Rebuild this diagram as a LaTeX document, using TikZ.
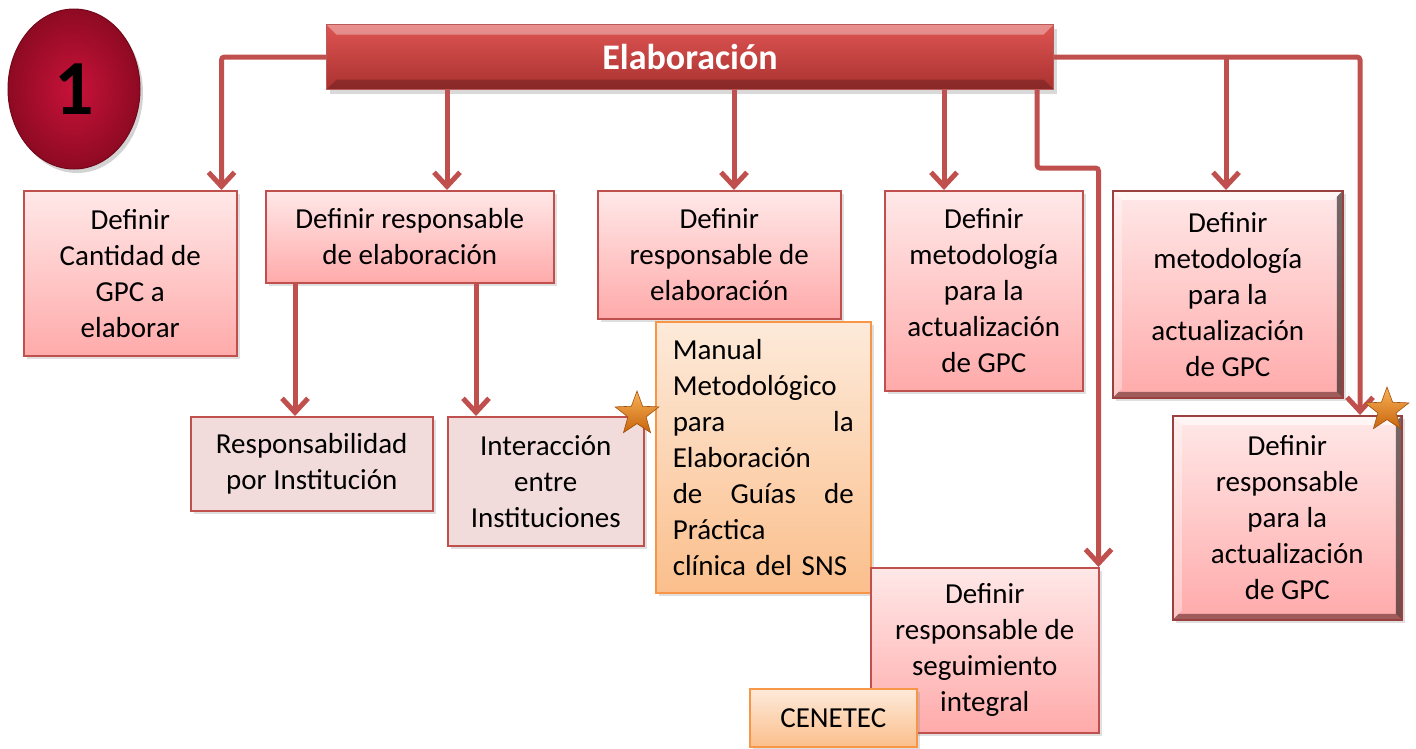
\documentclass[tikz,border=0pt]{standalone}
\usepackage{fontspec}
\setmainfont{Carlito}
\usetikzlibrary{arrows.meta,shapes.geometric,shadows,calc}
\definecolor{ln}{HTML}{C0504D}
\definecolor{pinkT}{HTML}{FFE8E8}
\definecolor{pinkB}{HTML}{FFAAAA}
\definecolor{lpink}{HTML}{F2DCDB}
\definecolor{orT}{HTML}{FDEADA}
\definecolor{orB}{HTML}{FBBF8C}
\definecolor{orL}{HTML}{F79646}
\definecolor{hdrT}{HTML}{DE5452}
\definecolor{hdrB}{HTML}{A93230}
\definecolor{ballC}{HTML}{C8123A}
\definecolor{ballE}{HTML}{8E0A22}
\definecolor{starT}{HTML}{F9B255}
\definecolor{starB}{HTML}{C8650F}
\begin{document}
\begin{tikzpicture}[x=1pt,y=-1pt,
  txt/.style={font=\fontsize{29}{36}\selectfont, align=center, text=black, inner sep=0pt, anchor=north west},
  shad/.style={drop shadow={opacity=0.25, shadow xshift=3pt, shadow yshift=-3pt}},
  pbox/.style={txt, shad, draw=ln, line width=1.5pt, top color=pinkT, bottom color=pinkB},
  lbox/.style={txt, shad, draw=ln, line width=1.5pt, fill=lpink},
  obox/.style={txt, shad, draw=orL, line width=1.5pt, top color=orT, bottom color=orB},
  bevel/.style={pbox, draw=ln!80!black,
    path picture={
      \fill[white,opacity=0.6] (path picture bounding box.north west) -- (path picture bounding box.north east)
        -- ([xshift=-9pt,yshift=-9pt]path picture bounding box.north east) -- ([xshift=9pt,yshift=-9pt]path picture bounding box.north west) -- cycle;
      \fill[white,opacity=0.35] (path picture bounding box.north west) -- ([xshift=9pt,yshift=-9pt]path picture bounding box.north west)
        -- ([xshift=9pt,yshift=9pt]path picture bounding box.south west) -- (path picture bounding box.south west) -- cycle;
      \fill[black,opacity=0.55] (path picture bounding box.north east) -- (path picture bounding box.south east)
        -- ([xshift=-6pt,yshift=6pt]path picture bounding box.south east) -- ([xshift=-6pt,yshift=-6pt]path picture bounding box.north east) -- cycle;
      \fill[ln!50!black,opacity=0.6] (path picture bounding box.south west) -- (path picture bounding box.south east)
        -- ([xshift=-6pt,yshift=6pt]path picture bounding box.south east) -- ([xshift=6pt,yshift=6pt]path picture bounding box.south west) -- cycle;
    }},
  arr/.style={draw=ln, line width=5pt, rounded corners=3pt, -{Straight Barb[length=14pt,width=26pt]}},
  starn/.style={star, star points=5, star point ratio=2.4, minimum size=46pt, inner sep=0pt,
    top color=starT, bottom color=starB, draw=starB!80!black, line width=0.6pt}
]
\useasboundingbox (0,0) rectangle (1416,748);

% header
\node[anchor=north west, minimum width=727pt, minimum height=65pt, inner sep=0pt,
  top color=hdrT, bottom color=hdrB, draw=hdrB!80!white, line width=1pt,
  drop shadow={opacity=0.3, shadow xshift=3pt, shadow yshift=-4pt},
  path picture={
    \fill[white,opacity=0.35] (path picture bounding box.north west) -- (path picture bounding box.north east)
      -- ([xshift=-10pt,yshift=-10pt]path picture bounding box.north east) -- ([xshift=10pt,yshift=-10pt]path picture bounding box.north west) -- cycle;
    \fill[black,opacity=0.2] (path picture bounding box.south west) -- (path picture bounding box.south east)
      -- ([xshift=-10pt,yshift=10pt]path picture bounding box.south east) -- ([xshift=10pt,yshift=10pt]path picture bounding box.south west) -- cycle;
  }] (hdr) at (326,24) {};
\node[font=\fontsize{36}{40}\selectfont\bfseries, text=white] (hdrt) at (hdr.center) {Elaboración};

% number ball
\node[ellipse, minimum width=132pt, minimum height=160pt, inner sep=0pt,
  inner color=ballC, outer color=ballE, draw=ballE!80!black, line width=1pt,
  drop shadow={opacity=0.35, shadow xshift=3pt, shadow yshift=-4pt},
  font=\fontsize{78}{80}\selectfont\bfseries] (ball) at (74,89) {1};

% boxes
\node[pbox, minimum width=213pt, minimum height=165pt] (b1) at (23,190) {Definir\\Cantidad de\\GPC a\\elaborar};
\node[pbox, minimum width=288pt, minimum height=92pt] (b2) at (265,190) {Definir responsable\\de elaboración};
\node[pbox, minimum width=243pt, minimum height=128pt] (b3) at (597,190) {Definir\\responsable de\\elaboración};
\node[pbox, minimum width=198pt, minimum height=200pt] (b4) at (884,190) {Definir\\metodología\\para la\\actualización\\de GPC};
\node[bevel, minimum width=230pt, minimum height=207pt] (b5) at (1112,190) {Definir\\metodología\\para la\\actualización\\de GPC};
\node[lbox, minimum width=242pt, minimum height=94pt] (b6) at (190,416) {Responsabilidad\\por Institución};
\node[lbox, minimum width=196pt, minimum height=129pt] (b7) at (447,416) {Interacción\\entre\\Instituciones};
\node[obox, minimum width=215pt, minimum height=271pt, text width=181pt, inner xsep=17pt, align=left] (b8) at (655,321)
  {Manual\\Metodológico\\para\hfill la\\Elaboración\\de\hfill Guías\hfill de\\Práctica\\\mbox{clínica del SNS}};
\node[pbox, minimum width=228pt, minimum height=165pt] (b9) at (870,567) {Definir\\responsable de\\seguimiento\\integral};
\node[obox, minimum width=167pt, minimum height=58pt] (b10) at (749,688) {CENETEC};
\node[bevel, minimum width=229pt, minimum height=204pt] (b11) at (1172,415) {Definir\\responsable\\para la\\actualización\\de GPC};

% connector targets
\coordinate (t1) at ([xshift=-16pt]b1.north east);
\coordinate (t2) at ([xshift=182pt]b2.north west);
\coordinate (t3) at ([xshift=137pt]b3.north west);
\coordinate (t4) at ([xshift=60pt]b4.north west);
\coordinate (t5) at ([xshift=114pt]b5.north west);
\coordinate (t6) at ([xshift=105pt]b6.north west);
\coordinate (t7) at ([xshift=29pt]b7.north west);
\coordinate (t9) at ([xshift=-1pt]b9.north east);
\coordinate (t11) at ([xshift=188pt]b11.north west);
\coordinate (k9) at (1037,168);

% connectors
\draw[arr] (hdr.west) -| (t1);
\draw[arr] (t2 |- hdr.south) -- (t2);
\draw[arr] (t3 |- hdr.south) -- (t3);
\draw[arr] (t4 |- hdr.south) -- (t4);
\draw[arr] (k9 |- hdr.south) -- (k9) -| (t9);
\draw[arr] (hdr.east) -| (t11);
\draw[arr] (t5 |- hdr.east) -- (t5);
\draw[arr] (t6 |- b2.south) -- (t6);
\draw[arr] (t7 |- b2.south) -- (t7);

% stars
\node[starn] (s1) at (637,414) {};
\node[starn] (s2) at (1387,410) {};
\end{tikzpicture}
\end{document}
